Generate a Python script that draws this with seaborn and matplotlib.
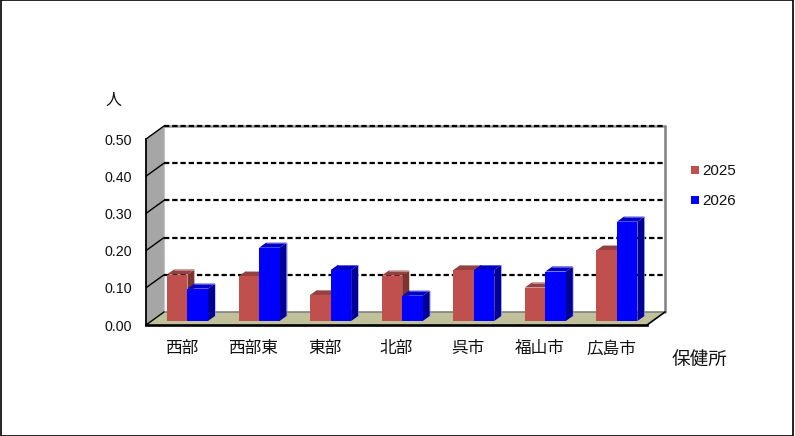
import matplotlib
matplotlib.use("Agg")
import matplotlib.pyplot as plt
import numpy as np
import pandas as pd
import seaborn as sns
from matplotlib.lines import Line2D
from matplotlib.patches import Polygon, Rectangle
from matplotlib.transforms import Affine2D, IdentityTransform

districts = ["西部", "西部東", "東部", "北部", "呉市", "福山市", "広島市"]
rate_2025 = [0.125, 0.120, 0.070, 0.122, 0.137, 0.090, 0.190]
rate_2026 = [0.087, 0.197, 0.137, 0.068, 0.137, 0.133, 0.267]
y_ticks = [0.0, 0.1, 0.2, 0.3, 0.4, 0.5]
years = ["2025", "2026"]

RED, RED_TOP, RED_SIDE, RED_EDGE = "#C0504D", "#93403E", "#7E3331", "#E0C4C3"
BLUE, BLUE_TOP, BLUE_SIDE, BLUE_EDGE = "#0000FF", "#0000C8", "#000096", "#9A9AF0"
WALL, FLOOR = "#A6A6A6", "#C0C09A"

W, H = 795, 436
JP = ["Noto Sans CJK JP", "DejaVu Sans"]
LATIN = "Liberation Sans"

sns.set_theme(style="white", rc={"font.family": LATIN})
plt.rcParams["font.family"] = LATIN

fig = plt.figure(figsize=(W / 100, H / 100), dpi=100, facecolor="white")
ax = fig.add_axes([146 / W, (H - 325) / H, 501 / W, 186 / H])
ax.patch.set_visible(False)

frame = pd.DataFrame({
    "district": districts * 2,
    "year": [years[0]] * 7 + [years[1]] * 7,
    "rate": rate_2025 + rate_2026,
})
sns.barplot(data=frame, x="district", y="rate", hue="year", order=districts,
            hue_order=years, palette=[RED, BLUE], width=0.573, gap=0,
            saturation=1, legend=False, ax=ax, zorder=5, linewidth=0,
            edgecolor="none")
ax.set_xlim(-0.5, 6.5)
ax.set_ylim(0, 0.5)

# Depth of the chart box and of the bars, in pixels
BOX_DX, BOX_DY = 18, 13
BAR_DX, BAR_DY = 7, 5
BAR_SHIFT_X, BAR_SHIFT_Y = 5.7, 4


def box_point(x, y, depth):
    px, py = ax.transData.transform((x, y))
    return px + depth * BOX_DX, py + depth * BOX_DY


def add_face(points, color, zorder, edge="none", lw=0):
    ax.add_patch(Polygon(points, closed=True, facecolor=color, edgecolor=edge,
                         linewidth=lw, transform=IdentityTransform(),
                         clip_on=False, zorder=zorder))


# Walls and floor
add_face([box_point(-0.5, 0, 0), box_point(-0.5, 0, 1),
          box_point(-0.5, 0.5, 1), box_point(-0.5, 0.5, 0)], WALL, 1)
add_face([box_point(-0.5, 0, 0), box_point(6.5, 0, 0),
          box_point(6.5, 0, 1), box_point(-0.5, 0, 1)], FLOOR, 1)


def draw_line(p, q, color, lw, zorder=2, **kw):
    ax.add_line(Line2D([p[0], q[0]], [p[1], q[1]], color=color, linewidth=lw,
                       transform=IdentityTransform(), clip_on=False,
                       zorder=zorder, **kw))


draw_line(box_point(-0.5, 0, 1), box_point(-0.5, 0.5, 1), "#C4C4C4", 0.8)
draw_line(box_point(-0.5, 0, 1), box_point(6.5, 0, 1), "#808080", 1.2)
draw_line(box_point(-0.5, 0.5, 1), box_point(6.5, 0.5, 1), "#9A9A9A", 1.8)
draw_line(box_point(6.5, 0, 1), box_point(6.5, 0.5, 1), "#808080", 1.8)
draw_line(box_point(6.5, 0, 0), box_point(6.5, 0, 1), "black", 1.2, zorder=8)

# Dashed grid on the back wall, with diagonals across the side wall
for tick in y_ticks:
    if tick > 0:
        draw_line(box_point(-0.5, tick, 1), box_point(6.5, tick, 1), "black",
                  1.6, zorder=3, dashes=(2.4, 1.3))
    draw_line(box_point(-0.5, tick, 0), box_point(-0.5, tick, 1), "black", 1.0,
              zorder=3)

# Extruded bars: move each front face back, then add its top and side faces
shift = Affine2D().translate(BAR_SHIFT_X, BAR_SHIFT_Y)
styles = [(RED_TOP, RED_SIDE, RED_EDGE), (BLUE_TOP, BLUE_SIDE, BLUE_EDGE)]
for order, (container, style) in enumerate(zip(ax.containers, styles)):
    top_c, side_c, edge_c = style
    base_z = 5 + order
    for bar in container:
        x0, x1 = bar.get_x(), bar.get_x() + bar.get_width()
        h = bar.get_height()
        (ax0, ay0), (ax1, ay1) = shift.transform(
            ax.transData.transform([(x0, 0), (x1, h)]))
        bar.set_transform(ax.transData + shift)
        bar.set_clip_on(False)
        bar.set_zorder(base_z + 0.3)
        add_face([(ax0, ay1), (ax1, ay1), (ax1 + BAR_DX, ay1 + BAR_DY),
                  (ax0 + BAR_DX, ay1 + BAR_DY)], top_c, base_z)
        add_face([(ax1, ay0), (ax1 + BAR_DX, ay0 + BAR_DY),
                  (ax1 + BAR_DX, ay1 + BAR_DY), (ax1, ay1)], side_c, base_z)
        draw_line((ax0 + BAR_DX, ay1 + BAR_DY), (ax1 + BAR_DX, ay1 + BAR_DY),
                  edge_c, 0.4, zorder=base_z + 0.1)
        draw_line((ax1 + BAR_DX, ay0 + BAR_DY), (ax1 + BAR_DX, ay1 + BAR_DY),
                  edge_c, 0.4, zorder=base_z + 0.1)

# Axes, ticks and labels
sns.despine(ax=ax, top=True, right=True)
ax.spines["left"].set(color="black", linewidth=1.3, zorder=9)
ax.spines["bottom"].set(color="black", linewidth=1.9, zorder=9)
ax.set_xlabel("")
ax.set_ylabel("")
ax.set_yticks(y_ticks, [f"{t:.2f}" for t in y_ticks])
ax.tick_params(axis="y", length=0, pad=10, labelsize=10.3, labelcolor="#111111")
ax.set_xticks(range(7), districts)
ax.set_xticks(np.arange(0.5, 6.5), minor=True)
ax.tick_params(axis="x", which="major", length=0, pad=11, labelsize=12,
               labelcolor="#111111")
ax.tick_params(axis="x", which="minor", direction="in", length=4, width=1,
               color="black", bottom=True)
for label in ax.get_xticklabels():
    label.set_fontfamily(JP)

fig.text(113 / W, 1 - 100 / H, "人", family=JP, fontsize=11.5, color="#111111",
         ha="center", va="center")
fig.text(699.5 / W, 1 - 360 / H, "保健所", family=JP, fontsize=13.4, color="#111111",
         ha="center", va="center")

# Year key
key_colors = [RED, BLUE]
for year, color, y in zip(years, key_colors, [170, 200]):
    fig.add_artist(Rectangle((691 / W, 1 - (y + 4) / H), 8 / W, 8 / H,
                             transform=fig.transFigure, facecolor=color,
                             edgecolor="none"))
    fig.text(702 / W, 1 - (y + 1) / H, year, fontsize=10.9, color="#111111",
             ha="left", va="center")

# Border round the whole figure
fig.add_artist(Rectangle((0.5 / W, 0.5 / H), 792.5 / W, 435 / H,
                         transform=fig.transFigure, fill=False,
                         edgecolor="black", linewidth=1.2))

fig.savefig("out.png", dpi=100)
